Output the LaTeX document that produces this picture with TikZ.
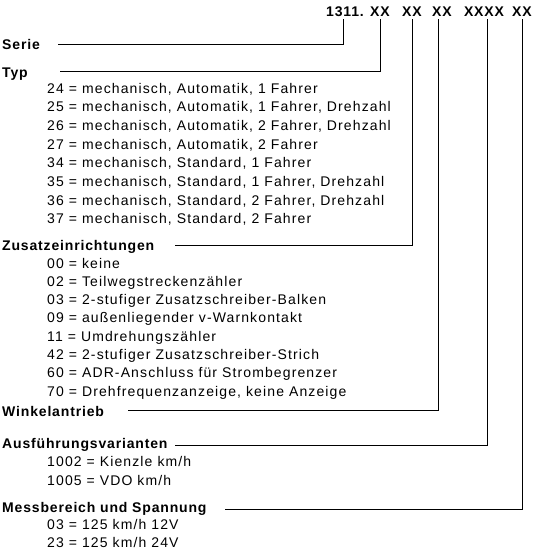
\documentclass[tikz,border=0pt]{standalone}
\usepackage{fontspec}
\newfontfamily\schrift[LetterSpace=8]{Liberation Sans}
\newfontfamily\schriftfett[LetterSpace=6]{Liberation Sans}
\usetikzlibrary{positioning}

\tikzset{
  kopf/.style={font=\schriftfett\bfseries\fontsize{14}{16}\selectfont, inner sep=2pt},
  titel/.style={anchor=base west, inner sep=0pt, font=\schriftfett\bfseries\fontsize{14}{16}\selectfont},
  eintrag/.style={anchor=base west, inner sep=0pt, font=\schrift\fontsize{14}{16}\selectfont},
  linie/.style={line width=0.8pt}
}

\begin{document}
\begin{tikzpicture}[x=1pt, y=-1pt]
\useasboundingbox (0,0) rectangle (535,554);
% Kopf
\node [kopf] (g0) at (345,12) {1311.};
\node [kopf] (g1) at (380,12) {XX};
\node [kopf] (g2) at (412,12) {XX};
\node [kopf] (g3) at (442,12) {XX};
\node [kopf] (g4) at (484,12) {XXXX};
\node [kopf] (g5) at (522,12) {XX};
% Gruppen
\node [titel] (serie) at (2,49) {Serie};
\node [titel] (typ) at (2,77) {Typ};
\node [titel] (zusatz) at (2,250) {Zusatzeinrichtungen};
\node [titel] (winkel) at (2,416) {Winkelantrieb};
\node [titel] (ausf) at (2,448) {Ausführungsvarianten};
\node [titel] (mess) at (2,512) {Messbereich und Spannung};
% Eintraege
\foreach \t [count=\i from 0] in {{24 = mechanisch, Automatik, 1 Fahrer},
    {25 = mechanisch, Automatik, 1 Fahrer, Drehzahl},
    {26 = mechanisch, Automatik, 2 Fahrer, Drehzahl},
    {27 = mechanisch, Automatik, 2 Fahrer},
    {34 = mechanisch, Standard, 1 Fahrer},
    {35 = mechanisch, Standard, 1 Fahrer, Drehzahl},
    {36 = mechanisch, Standard, 2 Fahrer, Drehzahl},
    {37 = mechanisch, Standard, 2 Fahrer}}
  \node [eintrag] (typ\i) at (47,93+18.7*\i) {\t};
\foreach \t [count=\i from 0] in {{00 = keine},
    {02 = Teilwegstreckenzähler},
    {03 = 2-stufiger Zusatzschreiber-Balken},
    {09 = außenliegender v-Warnkontakt},
    {11 = Umdrehungszähler},
    {42 = 2-stufiger Zusatzschreiber-Strich},
    {60 = ADR-Anschluss für Strombegrenzer},
    {70 = Drehfrequenzanzeige, keine Anzeige}}
  \node [eintrag] (zus\i) at (47,268+18.3*\i) {\t};
\node [eintrag] (ausf0) at (47,466) {1002 = Kienzle km/h};
\node [eintrag] (ausf1) at (47,485) {1005 = VDO km/h};
\node [eintrag] (mess0) at (47,529) {03 = 125 km/h 12V};
\node [eintrag] (mess1) at (47,547) {23 = 125 km/h 24V};
% Linien
\coordinate (e0) at (58,44);
\coordinate (e1) at (60,71);
\coordinate (e2) at (175,245);
\coordinate (e3) at (128,410);
\coordinate (e4) at (175,445);
\coordinate (e5) at (225,509);
\draw [linie] ([xshift=-2pt]g0.south) |- (e0);
\draw [linie] (g1.south) |- (e1);
\draw [linie] (g2.south) |- (e2);
\draw [linie] ([xshift=-4pt]g3.south) |- (e3);
\draw [linie] ([xshift=3pt]g4.south) |- (e4);
\draw [linie] (g5.south) |- (e5);
\end{tikzpicture}
\end{document}
